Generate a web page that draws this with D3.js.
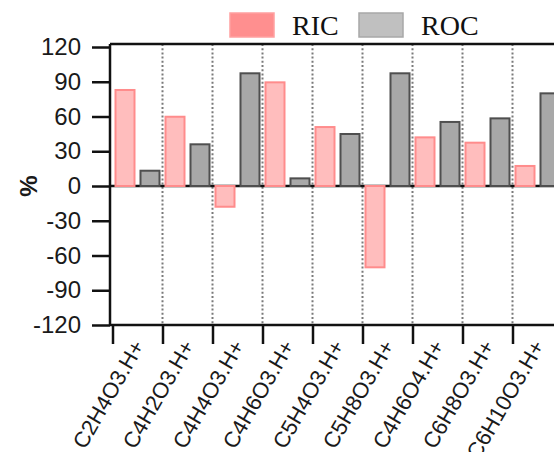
<!DOCTYPE html>
<html>
<head>
<meta charset="utf-8">
<script src="https://cdn.jsdelivr.net/npm/d3@7"></script>
<style>
  html, body { margin: 0; padding: 0; background: #fff; }
  svg { display: block; }
</style>
</head>
<body>
<svg id="chart" width="554" height="452"></svg>
<script>
// data
const categories = ["C2H4O3.H+", "C4H2O3.H+", "C4H4O3.H+", "C4H6O3.H+", "C5H4O3.H+",
                    "C5H8O3.H+", "C4H6O4.H+", "C6H8O3.H+", "C6H10O3.H+"];
const series = ["RIC", "ROC"];
const ricValues = [82.9, 59.8, -17.9, 89.5, 50.9, -70.2, 42.0, 37.4, 17.3];
const rocValues = [13.2, 36.0, 97.3, 6.6, 44.9, 97.3, 55.3, 58.4, 80.0];
const yTicks = [-120, -90, -60, -30, 0, 30, 60, 90, 120];

const fills   = { RIC: "#ffbdbd", ROC: "#a8a8a8" };
const strokes = { RIC: "#ff8c8c", ROC: "#4f4f4f" };
const legendFills   = { RIC: "#ff8f8f", ROC: "#c0c0c0" };
const legendStrokes = { RIC: "#ffa0a0", ROC: "#a8a8a8" };

const rows = categories.map((c, i) => ({ cat: c, RIC: ricValues[i], ROC: rocValues[i] }));

const svg = d3.select("#chart");
const plotLeft = 110, plotTop = 44, plotBottom = 325;

const x = d3.scaleBand().domain(categories).range([112.5, 562.5]).padding(0);
const xInner = d3.scaleBand().domain(series).range([0, x.bandwidth()])
  .paddingInner(0.24).paddingOuter(0.12);
const edges = d3.scaleLinear().domain([0, categories.length]).range(x.range());
const y = d3.scaleLinear().domain([-120, 122.6]).range([plotBottom, plotTop]);

// dotted separators between groups
svg.append("g")
  .selectAll("line")
  .data(d3.range(1, categories.length))
  .join("line")
  .attr("x1", d => edges(d)).attr("x2", d => edges(d))
  .attr("y1", plotTop).attr("y2", plotBottom)
  .attr("stroke", "#7a7a7a")
  .attr("stroke-width", 2)
  .attr("stroke-dasharray", "2,2.2");

// zero line
svg.append("line")
  .attr("x1", plotLeft).attr("x2", 554)
  .attr("y1", y(0)).attr("y2", y(0))
  .attr("stroke", "#111").attr("stroke-width", 2.5);

// bars
svg.append("g")
  .selectAll("g")
  .data(rows)
  .join("g")
  .attr("transform", d => `translate(${x(d.cat)},0)`)
  .selectAll("rect")
  .data(d => series.map(s => ({ key: s, value: d[s] })))
  .join("rect")
  .attr("x", d => xInner(d.key))
  .attr("width", xInner.bandwidth())
  .attr("y", d => y(Math.max(0, d.value)))
  .attr("height", d => Math.abs(y(d.value) - y(0)))
  .attr("fill", d => fills[d.key])
  .attr("stroke", d => strokes[d.key])
  .attr("stroke-width", 2);

// frame: top line
svg.append("line")
  .attr("x1", plotLeft).attr("x2", 554)
  .attr("y1", plotTop).attr("y2", plotTop)
  .attr("stroke", "#111").attr("stroke-width", 2.5);

// y axis (plain hyphen for negatives, like the original)
const yAxis = svg.append("g")
  .attr("transform", `translate(${plotLeft},0)`)
  .call(d3.axisLeft(y).tickValues(yTicks).tickSize(18).tickPadding(11)
    .tickFormat(d => String(d)));
yAxis.select(".domain").remove();
yAxis.append("line")
  .attr("x1", 0).attr("x2", 0).attr("y1", plotTop).attr("y2", plotBottom)
  .attr("stroke", "#111").attr("stroke-width", 2.5);
yAxis.selectAll(".tick line").attr("stroke", "#111").attr("stroke-width", 2.5);
yAxis.selectAll(".tick text")
  .attr("fill", "#1a1a1a")
  .style("font-family", "'Liberation Sans', Arial, sans-serif")
  .style("font-size", "24px");

// x axis: ticks at group edges
const xAxis = svg.append("g")
  .attr("transform", `translate(0,${plotBottom})`)
  .call(d3.axisBottom(edges).tickValues(d3.range(0, categories.length + 1))
    .tickSize(19).tickFormat(""));
xAxis.select(".domain").remove();
xAxis.append("line")
  .attr("x1", plotLeft).attr("x2", 554).attr("y1", 0).attr("y2", 0)
  .attr("stroke", "#111").attr("stroke-width", 2.5);
xAxis.selectAll(".tick line").attr("stroke", "#111").attr("stroke-width", 2.5);

// category labels, rotated
svg.append("g")
  .selectAll("text")
  .data(categories)
  .join("text")
  .attr("transform", d => `translate(${x(d) + x.bandwidth() / 2 + 1},${plotBottom + 17}) rotate(-60)`)
  .attr("text-anchor", "end")
  .attr("dy", "0.35em")
  .attr("fill", "#1a1a1a")
  .style("font-family", "'Liberation Sans', Arial, sans-serif")
  .style("font-size", "22px")
  .text(d => d);

// y title
svg.append("text")
  .attr("transform", `translate(29,${y(0)}) rotate(-90)`)
  .attr("text-anchor", "middle")
  .attr("dy", "0.35em")
  .attr("fill", "#1a1a1a")
  .style("font-family", "'Liberation Sans', Arial, sans-serif")
  .style("font-size", "24px")
  .style("font-weight", "bold")
  .text("%");

// legend
const legendX = { RIC: 230, ROC: 359 };
const legend = svg.append("g");
series.forEach(s => {
  legend.append("rect")
    .attr("x", legendX[s]).attr("y", 13)
    .attr("width", 44).attr("height", 24)
    .attr("fill", legendFills[s])
    .attr("stroke", legendStrokes[s])
    .attr("stroke-width", 1.5);
  legend.append("text")
    .attr("x", legendX[s] + 62).attr("y", 35)
    .attr("fill", "#111")
    .style("font-family", "'Liberation Serif', 'Times New Roman', serif")
    .style("font-size", "28px")
    .text(s);
});
</script>
</body>
</html>
